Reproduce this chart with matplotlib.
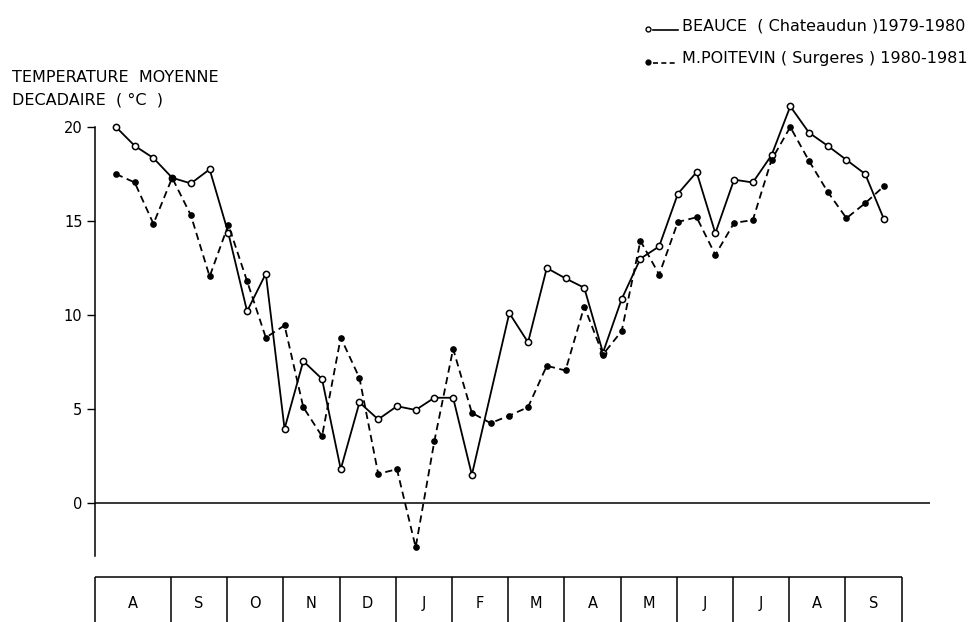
import matplotlib
matplotlib.use("Agg")
import matplotlib.pyplot as plt
from matplotlib.lines import Line2D
import numpy as np

plt.rcParams['font.family'] = ['DejaVu Sans']

# mean temperature per decade (10-day period), Aug -> Sep of the following year
beauce = [20.0, 19.0, 18.35, 17.3, 17.0, 17.75, 14.35, 10.2, 12.2, 3.95,
          7.55, 6.6, 1.8, 5.35, 4.45, 5.15, 4.95, 5.6, 5.6, 1.5,
          np.nan, 10.1, 8.55, 12.5, 11.95, 11.45, 8.0, 10.85, 13.0, 13.65,
          16.45, 17.6, 14.35, 17.2, 17.05, 18.5, 21.1, 19.7, 19.0, 18.25,
          17.5, 15.1]
poitevin = [17.5, 17.05, 14.85, 17.3, 15.3, 12.05, 14.8, 11.8, 8.8, 9.45,
            5.1, 3.55, 8.8, 6.65, 1.55, 1.8, -2.35, 3.3, 8.2, 4.8,
            4.25, 4.65, 5.1, 7.3, 7.05, 10.45, 7.9, 9.15, 13.95, 12.15,
            14.95, 15.2, 13.2, 14.9, 15.05, 18.25, 20.0, 18.2, 16.55, 15.15,
            15.95, 16.85]
months = ["A", "S", "O", "N", "D", "J", "F", "M", "A", "M", "J", "J", "A", "S"]
yticks = [0, 5, 10, 15, 20]

W, H = 976, 622
fig = plt.figure(figsize=(W / 100, H / 100), dpi=100)

ax = fig.add_axes([95 / W, 1 - 560 / H, (930 - 95) / W, (560 - 118) / H])
x = np.arange(len(beauce))
b = np.array(beauce)
m = ~np.isnan(b)
ax.plot(x[m], b[m], color='k', lw=1.3, marker='o', ms=4.5, mfc='white',
        mec='k', mew=1.1, zorder=3, clip_on=False)
ax.plot(x, poitevin, color='k', lw=1.3, ls=(0, (4, 2.5)), marker='o', ms=3.8,
        mfc='k', mec='k', zorder=3, clip_on=False)

ax.set_xlim(-1.12, 43.46)
ax.set_ylim(-3.03, 20.48)
ax.axhline(0, color='k', lw=1.1)
for s in ['top', 'right', 'bottom']:
    ax.spines[s].set_visible(False)
ax.spines['left'].set_bounds(-2.8, 20)
ax.spines['left'].set_linewidth(1.1)
ax.set_xticks([])
ax.set_yticks(yticks)
ax.tick_params(axis='y', direction='out', length=6, width=1, pad=3,
               labelsize=10.5)

# month boxes under the plot
bx = fig.add_axes([95 / W, 0, (930 - 95) / W, 45 / H])
bx.set_xlim(ax.get_xlim())
bx.set_ylim(0, 1)
bx.axis('off')
edges = [-1.12] + [2.94 + 3 * k for k in range(len(months))]
bx.vlines(edges, 0, 1, color='k', lw=1.1, clip_on=False)
bx.hlines(1, edges[0], edges[-1], color='k', lw=1.1, clip_on=False)
for i, mo in enumerate(months):
    bx.text((edges[i] + edges[i + 1]) / 2, 0.42, mo, ha='center', va='center',
            fontsize=10.5)

# axis title
fig.text(12 / W, 1 - 78 / H, "TEMPERATURE  MOYENNE", fontsize=11.5,
         va='center', ha='left')
fig.text(12 / W, 1 - 100 / H, "DECADAIRE  ( °C  )", fontsize=11.5,
         va='center', ha='left')

# legend drawn by hand, marker at the left end of the line sample
for yy, lab, ls, fc in [(26, "BEAUCE  ( Chateaudun )1979-1980", '-', 'white'),
                        (59, "M.POITEVIN ( Surgeres ) 1980-1981", (0, (3, 2)), 'k')]:
    fy = 1 - yy / H
    fig.add_artist(Line2D([653 / W, 678 / W], [fy - 4 / H, fy - 4 / H],
                          color='k', lw=1.2, ls=ls))
    fig.add_artist(Line2D([648 / W], [fy - 3 / H], marker='o', ms=3.5,
                          mfc=fc, mec='k', mew=1))
    fig.text(682 / W, fy, lab, fontsize=11.5, va='center', ha='left')

fig.savefig("out.png", dpi=100)
